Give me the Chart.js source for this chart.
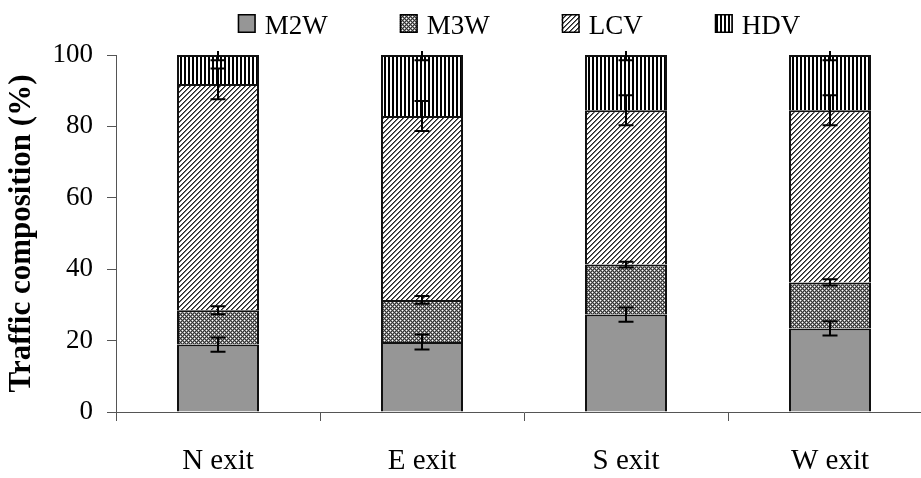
<!DOCTYPE html>
<html>
<head>
<meta charset="utf-8">
<script src="https://cdn.jsdelivr.net/npm/chart.js@4"></script>
<style>
  html, body { margin: 0; padding: 0; overflow: hidden; background: #fff; width: 921px; height: 478px; }
  #wrap { position: absolute; left: 0; top: 0; width: 940px; height: 478px; }
</style>
</head>
<body>
<div id="wrap"><canvas id="c" width="940" height="478"></canvas></div>
<script>
// Traffic composition by exit (percent of vehicles), with standard-deviation error bars
const categories = ['N exit', 'E exit', 'S exit', 'W exit'];
const seriesNames = ['M2W', 'M3W', 'LCV', 'HDV'];

const m2w = [18.9, 19.6, 27.3, 23.4];
const m3w = [9.6, 11.8, 14.0, 12.9];
const lcv = [63.4, 51.5, 43.2, 48.2];
const hdv = [8.1, 17.1, 15.5, 15.5];

const m2wErr = [2.0, 2.1, 2.0, 2.0];
const m3wErr = [1.1, 1.1, 0.8, 0.9];
const lcvErr = [4.3, 4.2, 4.2, 4.2];
const hdvErr = [1.5, 1.5, 1.5, 1.5];

const yTicks = [0, 20, 40, 60, 80, 100];

const FONT = "'Liberation Serif', 'Times New Roman', Times, serif";

// ---- fill patterns ----
function makePattern(w, h, paint) {
  const c = document.createElement('canvas');
  c.width = w; c.height = h;
  const g = c.getContext('2d');
  paint(g);
  return g.createPattern(c, 'repeat');
}
function px(g, x, y, col) { g.fillStyle = col; g.fillRect(x, y, 1, 1); }

const solidGray = '#969696';

const checkPattern = makePattern(4, 4, g => {
  for (let y = 0; y < 4; y++) for (let x = 0; x < 4; x++) {
    let col = ((x + y) % 2 === 0) ? '#333333' : '#8e8e8e';
    if ((x === 0 && y === 0) || (x === 2 && y === 2)) col = '#ffffff';
    px(g, x, y, col);
  }
});

const diagPattern = makePattern(5, 5, g => {
  for (let y = 0; y < 5; y++) for (let x = 0; x < 5; x++) {
    const k = (x + y) % 5;
    px(g, x, y, k === 0 ? '#222222' : k === 1 ? '#6e6e6e' : '#ffffff');
  }
});

const vertPattern = makePattern(4, 1, g => {
  px(g, 0, 0, '#000000'); px(g, 1, 0, '#000000');
  px(g, 2, 0, '#ffffff'); px(g, 3, 0, '#ffffff');
});

const fills = [solidGray, checkPattern, diagPattern, vertPattern];
const seriesValues = [m2w, m3w, lcv, hdv];
const seriesErrors = [m2wErr, m3wErr, lcvErr, hdvErr];

// ---- error bars drawn at the top of each stacked segment ----
const errorBarPlugin = {
  id: 'errorBars',
  afterDatasetsDraw(chart) {
    const { ctx, chartArea, scales } = chart;
    const y = scales.y;
    ctx.save();
    ctx.beginPath();
    ctx.rect(chartArea.left, chartArea.top - 4, chartArea.right - chartArea.left, chartArea.bottom - chartArea.top + 8);
    ctx.clip();
    ctx.strokeStyle = '#000';
    ctx.lineWidth = 2;
    const cum = categories.map(() => 0);
    seriesValues.forEach((vals, si) => {
      const meta = chart.getDatasetMeta(si);
      vals.forEach((v, i) => {
        cum[i] += v;
        const e = seriesErrors[si][i];
        const x = meta.data[i].x;
        const yHi = y.getPixelForValue(cum[i] + e);
        const yLo = y.getPixelForValue(cum[i] - e);
        const cap = 7.5;
        ctx.beginPath();
        ctx.moveTo(x, yHi); ctx.lineTo(x, yLo);
        ctx.moveTo(x - cap, yHi); ctx.lineTo(x + cap, yHi);
        ctx.moveTo(x - cap, yLo); ctx.lineTo(x + cap, yLo);
        ctx.stroke();
      });
    });
    ctx.restore();
  }
};

// ---- legend row across the top ----
const legendPlugin = {
  id: 'topLegend',
  afterDraw(chart) {
    const { ctx, chartArea } = chart;
    ctx.save();
    ctx.font = `27px ${FONT}`;
    const box = 18, gap = 9, pad = 72;
    const widths = seriesNames.map(n => ctx.measureText(n).width);
    const total = widths.reduce((a, w) => a + box + gap + w, 0) + pad * (seriesNames.length - 1);
    let x = (chartArea.left + chartArea.right) / 2 - 5 - total / 2;
    const boxTop = chartArea.top - 41;
    const baseline = chartArea.top - 21;
    seriesNames.forEach((n, i) => {
      ctx.fillStyle = fills[i];
      ctx.fillRect(x, boxTop, box, box + 1);
      ctx.strokeStyle = '#000';
      ctx.lineWidth = 1.5;
      ctx.strokeRect(x + 0.75, boxTop + 0.75, box - 1.5, box - 0.5);
      ctx.fillStyle = '#000';
      ctx.textBaseline = 'alphabetic';
      ctx.textAlign = 'left';
      ctx.fillText(n, x + box + gap, baseline);
      x += box + gap + widths[i] + pad;
    });
    ctx.restore();
  }
};

new Chart(document.getElementById('c'), {
  type: 'bar',
  data: {
    labels: categories,
    datasets: seriesNames.map((name, i) => ({
      label: name,
      data: seriesValues[i],
      backgroundColor: fills[i],
      borderColor: '#111',
      borderWidth: 2,
      barPercentage: 0.402,
      categoryPercentage: 1.0
    }))
  },
  options: {
    responsive: false,
    animation: false,
    layout: { padding: { top: 55, right: 8, bottom: 0, left: 0 } },
    plugins: {
      legend: { display: false },
      tooltip: { enabled: false }
    },
    scales: {
      x: {
        stacked: true,
        ticks: { color: '#000', font: { family: FONT, size: 29 }, padding: 23 },
        grid: { offset: true, drawOnChartArea: false, drawTicks: true, tickLength: 9, color: '#555', tickColor: '#555' },
        border: { color: '#555', width: 1 },
        afterFit(s) { s.height = 66; }
      },
      y: {
        stacked: true,
        min: 0,
        max: 100,
        afterBuildTicks(s) { s.ticks = yTicks.map(v => ({ value: v })); },
        ticks: { color: '#000', font: { family: FONT, size: 27 }, padding: 14 },
        grid: { drawOnChartArea: false, drawTicks: true, tickLength: 9, color: '#555', tickColor: '#555' },
        border: { color: '#555', width: 1 },
        title: {
          display: true,
          text: 'Traffic composition (%)',
          color: '#000',
          font: { family: FONT, size: 31, weight: 'bold' },
          padding: { top: 3, bottom: 0 }
        },
        afterFit(s) { s.width = 116; }
      }
    }
  },
  plugins: [errorBarPlugin, legendPlugin]
});
</script>
</body>
</html>
